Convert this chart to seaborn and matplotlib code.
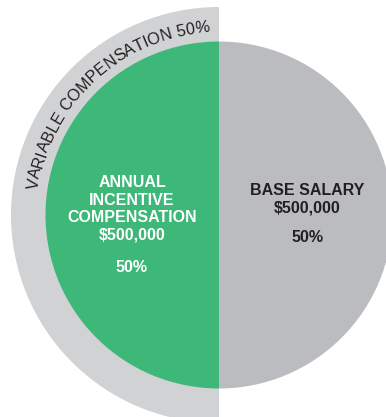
import numpy as np
import matplotlib
matplotlib.use("Agg")
import matplotlib.pyplot as plt
import seaborn as sns
from matplotlib.font_manager import FontProperties
from matplotlib.textpath import TextToPath

# ---- data ----
categories = ["ANNUAL\nINCENTIVE\nCOMPENSATION", "BASE SALARY"]
amounts = [500000, 500000]
shares = [50, 50]
ring_labels = ["VARIABLE COMPENSATION", ""]
ring_values = [50, 50]

# ---- style ----
sns.set_theme(style="white")
plt.rcParams['font.family'] = ['Liberation Sans', 'DejaVu Sans']
GREEN = "#3DB878"
GREY = "#BBBCBF"
RING = "#D1D2D4"
DARK = "#231F20"

W, H, DPI = 386, 417, 100
fig = plt.figure(figsize=(W / DPI, H / DPI), dpi=DPI)
ax = fig.add_axes([0, 0, 1, 1])

cx, cy = 219, H - 215
r_in, r_out = 173.5, 208

# outer ring (variable comp half)
ax.pie(ring_values, colors=[RING, "none"], radius=r_out, center=(cx, cy),
       startangle=90, counterclock=True,
       wedgeprops=dict(width=r_out - r_in + 1, linewidth=0), frame=True)
# main pie
ax.pie(amounts, colors=[GREEN, GREY], radius=r_in, center=(cx, cy),
       startangle=90, counterclock=True,
       wedgeprops=dict(linewidth=0), frame=True)
ax.set_xlim(0, W)
ax.set_ylim(0, H)
ax.set_aspect("equal")
ax.axis("off")

# inner labels
lbl_fs = 11.5
left_txt = f"{categories[0]}\n${amounts[0]:,}"
ax.text(132, H - 209, left_txt, ha="center", va="center", color="white",
        fontsize=lbl_fs, fontweight="bold", linespacing=1.2)
ax.text(132, H - 267, f"{shares[0]}%", ha="center", va="center", color="white",
        fontsize=lbl_fs, fontweight="bold")
right_txt = f"{categories[1]}\n${amounts[1]:,}"
ax.text(307, H - 199, right_txt, ha="center", va="center", color=DARK,
        fontsize=lbl_fs, fontweight="bold", linespacing=1.2)
ax.text(307, H - 237, f"{shares[1]}%", ha="center", va="center", color=DARK,
        fontsize=lbl_fs, fontweight="bold")

# curved ring label
ring_text = f"{ring_labels[0]} {ring_values[0]}%"
fs = 11.7
fp = FontProperties(family="Liberation Sans", size=fs)
t2p = TextToPath()

def tw(s):
    w, h, d = t2p.get_text_width_height_descent(s, fp, ismath=False)
    return w * DPI / 72.0

base = tw("xx")
widths = [tw("x" + c + "x") - base for c in ring_text]
total = sum(widths)
r_base = 183
theta_mid = np.deg2rad(132.6)
theta_start = theta_mid + total / 2 / r_base
pos = 0.0
for c, w in zip(ring_text, widths):
    th = theta_start - (pos + w / 2) / r_base
    pos += w
    x = cx + r_base * np.cos(th)
    y = cy + r_base * np.sin(th)
    ax.text(x, y, c, fontproperties=fp, color=DARK, rotation=np.rad2deg(th) - 90,
            rotation_mode="anchor", ha="center", va="baseline")

fig.savefig("out.png", dpi=DPI)
